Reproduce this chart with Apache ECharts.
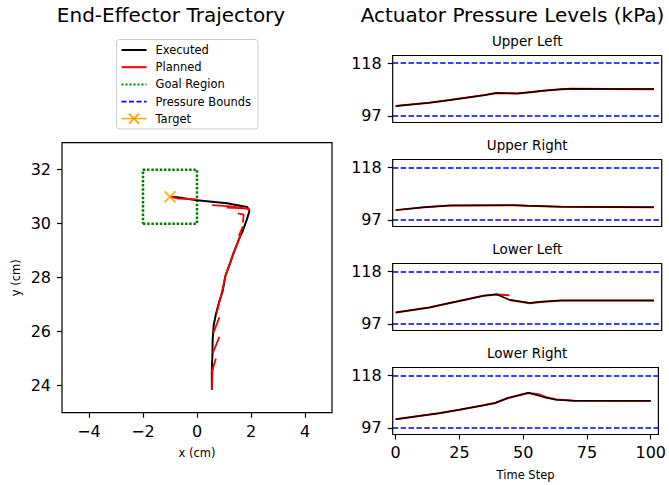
<!DOCTYPE html>
<html><head><meta charset="utf-8">
<script src="https://cdn.jsdelivr.net/npm/echarts@6/dist/echarts.min.js"></script>
<style>html,body{margin:0;padding:0;background:#fff}#c{width:669px;height:485px}</style>
</head><body><div id="c"></div>
<script>
// ---------- data ----------
const execX = [0.55, 0.55, 0.57, 0.58, 0.62, 0.70, 0.82, 0.95, 1.05, 1.23, 1.36, 1.60, 1.67, 1.84, 1.93, 1.94, 1.85, 1.11, 0.00, -0.74, -1.00];
const execY = [23.85, 24.60, 25.10, 25.70, 26.25, 26.65, 27.10, 27.50, 28.06, 28.55, 28.93, 29.54, 29.67, 30.14, 30.42, 30.50, 30.62, 30.76, 30.87, 30.98, 31.00];
const plannedSegments = [
  [[-1.00, 31.00], [-0.70, 30.93], [0.00, 30.90]],
  [[0.56, 30.69], [1.36, 30.63], [1.91, 30.55]],
  [[1.10, 30.60], [1.90, 30.56], [1.95, 30.47]],
  [[1.51, 30.38], [1.73, 30.34], [1.70, 30.04]],
  [[1.70, 29.90], [1.55, 29.55]],
  [[1.62, 29.60], [1.36, 28.93], [1.05, 28.06], [0.94, 27.55], [0.73, 26.68]],
  [[0.83, 26.53], [0.60, 25.94]],
  [[0.83, 25.81], [0.58, 25.20]],
  [[0.70, 25.01], [0.54, 24.46]],
  [[0.58, 24.70], [0.55, 23.85]]
];
const goalX = [-2, 0, 0, -2, -2];
const goalY = [30, 30, 32, 32, 30];
const target = [-1, 31];
const trajXTicks = [-4, -2, 0, 2, 4];
const trajYTicks = [24, 26, 28, 30, 32];

const actuatorNames = ['Upper Left', 'Upper Right', 'Lower Left', 'Lower Right'];
const pressureBounds = [97, 118];
const timeTicks = [0, 25, 50, 75, 100];

const ulExecuted = [[0,100.9],[13,102.2],[21,103.3],[34,105.2],[39,106.1],[47,105.9],[53,106.5],[57,107.0],[64,107.6],[68,107.8],[82,107.7],[100,107.7]];
const urExecuted = [[0,100.85],[11,102.0],[21,102.7],[46,102.8],[51,102.6],[64,102.2],[100,102.0]];
const llExecuted = [[0,101.5],[13,103.5],[21,105.3],[34,108.2],[39,108.8],[44,106.6],[52,105.3],[56,105.8],[64,106.3],[100,106.3]];
const lrExecuted = [[0,100.4],[17,102.8],[25,104.2],[34,105.9],[39,106.9],[44,108.9],[52,111.0],[59,109.0],[63,108.2],[70,107.8],[100,107.8]];

const ulPlanned = [[[0,100.9],[13,102.2],[21,103.3],[34,105.2],[39,106.1],[47,105.9],[53,106.5],[57,107.0],[64,107.6],[68,107.8],[82,107.7],[100,107.6]]];
const urPlanned = [[[0,100.85],[11,102.0],[21,102.7],[46,102.8],[51,102.6],[64,102.2],[100,102.0]]];
const llPlanned = [[[0,101.5],[13,103.5],[21,105.3],[34,108.2],[39,108.7],[44,108.4]], [[44,106.5],[52,105.2],[56,105.7],[64,106.3],[100,106.3]]];
const lrPlanned = [[[0,100.4],[17,102.8],[25,104.2],[34,105.9],[39,106.9],[44,108.9],[52,110.9],[56,110.4],[59,109.2],[63,108.3],[70,107.8],[100,107.7]]];

const executedByActuator = [ulExecuted, urExecuted, llExecuted, lrExecuted];
const plannedByActuator = [ulPlanned, urPlanned, llPlanned, lrPlanned];

// ---------- layout / style ----------
const FONT = 'DejaVu Sans';
const panelTops = [55.5, 159.5, 263.5, 367.5];
const panelH = 67;
const panelLeft = 392.7, panelW = 269;
const minus = v => String(v).replace('-', '\u2212');

const grids = [{left: 62, top: 142.7, width: 270, height: 270, show: true, borderColor: '#000', borderWidth: 1.2, backgroundColor: '#fff'}];
panelTops.forEach(t => grids.push({left: panelLeft, top: t, width: panelW, height: panelH, show: true, borderColor: '#000', borderWidth: 1.2}));

const tickStyle = {show: true, inside: false, length: 5, lineStyle: {color: '#000', width: 1.2}};
const noLine = {show: false, onZero: false};
const xAxes = [{
  gridIndex: 0, type: 'value', min: -5, max: 5,
  axisLine: noLine, splitLine: {show: false},
  axisTick: Object.assign({customValues: trajXTicks}, tickStyle),
  axisLabel: {customValues: trajXTicks, formatter: minus, fontSize: 16, color: '#000', fontFamily: FONT, margin: 11},
  name: 'x (cm)', nameLocation: 'middle', nameGap: 34, nameTextStyle: {fontSize: 11.5, color: '#000', fontFamily: FONT}
}];
const yAxes = [{
  gridIndex: 0, type: 'value', min: 23, max: 33,
  axisLine: noLine, splitLine: {show: false},
  axisTick: Object.assign({customValues: trajYTicks}, tickStyle),
  axisLabel: {customValues: trajYTicks, fontSize: 16, color: '#000', fontFamily: FONT, margin: 11},
  name: 'y (cm)', nameLocation: 'middle', nameGap: 40, nameRotate: 90, nameTextStyle: {fontSize: 11.5, color: '#000', fontFamily: FONT}
}];
panelTops.forEach((t, i) => {
  const last = i === panelTops.length - 1;
  xAxes.push({
    gridIndex: i + 1, type: 'value', min: -1.15, max: 103,
    axisLine: noLine, splitLine: {show: false},
    axisTick: last ? Object.assign({customValues: timeTicks}, tickStyle) : {show: false},
    axisLabel: last ? {customValues: timeTicks, fontSize: 16, color: '#000', fontFamily: FONT, margin: 10} : {show: false},
    name: last ? 'Time Step' : '', nameLocation: 'middle', nameGap: 34,
    nameTextStyle: {fontSize: 11.5, color: '#000', fontFamily: FONT}
  });
  yAxes.push({
    gridIndex: i + 1, type: 'value', min: 94.3, max: 121.1,
    axisLine: noLine, splitLine: {show: false},
    axisTick: Object.assign({customValues: pressureBounds}, tickStyle),
    axisLabel: {customValues: pressureBounds, fontSize: 16, color: '#000', fontFamily: FONT, margin: 11}
  });
});

const series = [];
series.push({
  name: 'Goal Region', type: 'line', xAxisIndex: 0, yAxisIndex: 0, symbol: 'none', silent: true,
  data: goalX.map((x, i) => [x, goalY[i]]),
  lineStyle: {color: '#008000', width: 2.5, type: [2.5, 1.7]}, z: 2
});
series.push({
  name: 'Executed', type: 'line', xAxisIndex: 0, yAxisIndex: 0, symbol: 'none',
  data: execX.map((x, i) => [x, execY[i]]),
  lineStyle: {color: '#000', width: 2}, z: 3
});
plannedSegments.forEach(seg => series.push({
  name: 'Planned', type: 'line', xAxisIndex: 0, yAxisIndex: 0, symbol: 'none', data: seg,
  lineStyle: {color: '#ff0000', width: 1.8}, z: 4
}));
series.push({
  name: 'Target', type: 'scatter', xAxisIndex: 0, yAxisIndex: 0, data: [target],
  symbol: 'path://M0,0L10,10M10,0L0,10', symbolSize: 11,
  itemStyle: {color: 'none', borderColor: '#ffa500', borderWidth: 2}, z: 5
});

executedByActuator.forEach((ex, i) => {
  plannedByActuator[i].forEach(seg => series.push({
    name: 'Planned', type: 'line', xAxisIndex: i + 1, yAxisIndex: i + 1, symbol: 'none', data: seg,
    lineStyle: {color: '#ff0000', width: 2}, z: 3
  }));
  series.push({
    name: 'Executed', type: 'line', xAxisIndex: i + 1, yAxisIndex: i + 1, symbol: 'none', data: ex,
    lineStyle: {color: '#000', width: 1.4}, z: 4,
    markLine: {
      silent: true, symbol: 'none', label: {show: false},
      lineStyle: {color: '#0000ff', width: 1.6, type: [5.5, 2.4]},
      data: pressureBounds.map(v => ({yAxis: v}))
    }
  });
});

const titleStyle = size => ({fontSize: size, fontWeight: 'normal', color: '#000', fontFamily: FONT});
const titles = [
  {text: 'End-Effector Trajectory', left: 171, top: 5, textAlign: 'center', padding: 0, textStyle: titleStyle(20)},
  {text: 'Actuator Pressure Levels (kPa)', left: 512.5, top: 5, textAlign: 'center', padding: 0, textStyle: titleStyle(20)}
];
actuatorNames.forEach((n, i) => titles.push({text: n, left: panelLeft + panelW / 2, top: panelTops[i] - 21.5, textAlign: 'center', padding: 0, textStyle: titleStyle(13.5)}));

// legend drawn as graphic
const legendItems = [
  {label: 'Executed', color: '#000', dash: null, width: 2},
  {label: 'Planned', color: '#ff0000', dash: null, width: 2},
  {label: 'Goal Region', color: '#008000', dash: [2, 2], width: 2},
  {label: 'Pressure Bounds', color: '#0000ff', dash: [5, 2.5], width: 1.6},
  {label: 'Target', color: '#ffa500', dash: null, width: 1.5, marker: true}
];
const legRows = [50, 67.2, 84.4, 101.6, 118.6];
const legendChildren = [{type: 'rect', shape: {x: 116.5, y: 39.5, width: 141.5, height: 89.5, r: 3}, style: {fill: '#fff', stroke: '#cccccc', lineWidth: 1}}];
legendItems.forEach((it, i) => {
  const y = legRows[i];
  legendChildren.push({type: 'line', shape: {x1: 121.5, y1: y, x2: 146.5, y2: y}, style: {stroke: it.color, lineWidth: it.width, lineDash: it.dash}});
  if (it.marker) {
    legendChildren.push({type: 'line', shape: {x1: 129, y1: y - 5, x2: 139, y2: y + 5}, style: {stroke: it.color, lineWidth: 2}});
    legendChildren.push({type: 'line', shape: {x1: 129, y1: y + 5, x2: 139, y2: y - 5}, style: {stroke: it.color, lineWidth: 2}});
  }
  legendChildren.push({type: 'text', x: 155.5, y: y, style: {text: it.label, fontSize: 11.5, fontFamily: FONT, fill: '#000', verticalAlign: 'middle', align: 'left'}});
});

const chart = echarts.init(document.getElementById('c'), null, {renderer: 'svg'});
chart.setOption({
  animation: false,
  backgroundColor: '#fff',
  title: titles,
  grid: grids,
  xAxis: xAxes,
  yAxis: yAxes,
  series: series,
  graphic: [{type: 'group', z: 100, children: legendChildren}]
});
</script>
</body></html>
